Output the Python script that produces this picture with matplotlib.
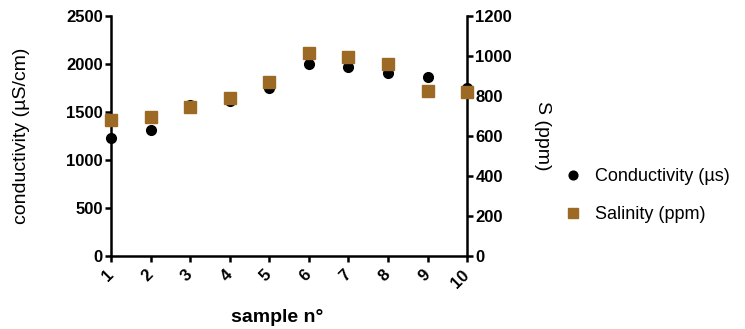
import numpy as np
import matplotlib
matplotlib.use("Agg")
import matplotlib.pyplot as plt

plt.rcParams['font.family'] = ['Liberation Sans', 'DejaVu Sans']

# data
samples = [1, 2, 3, 4, 5, 6, 7, 8, 9, 10]
conductivity = [1229, 1312, 1570, 1620, 1753, 2000, 1972, 1903, 1868, 1750]
salinity = [680, 693, 743, 791, 871, 1013, 997, 958, 827, 822]

brown = '#9C6A24'

fig = plt.figure(figsize=(7.45, 3.29), dpi=100)
ax = fig.add_axes([0.149, 0.222, 0.478, 0.729])
ax2 = ax.twinx()

l1, = ax.plot(samples, conductivity, 'o', color='black', markersize=7, clip_on=False,
              zorder=3, label='Conductivity (\u00b5s)')
l2, = ax2.plot(samples, salinity, 's', color=brown, markersize=8, clip_on=False,
               zorder=4, label='Salinity (ppm)')

ax.set_xlim(1, 10)
ax.set_ylim(0, 2500)
ax2.set_ylim(0, 1200)
ax.set_yticks([0, 500, 1000, 1500, 2000, 2500])
ax2.set_yticks([0, 200, 400, 600, 800, 1000, 1200])
ax.set_xticks(samples)
ax.set_xticklabels([str(s) for s in samples], rotation=45, ha='right',
                   va='center', rotation_mode='anchor', fontsize=12, fontweight='bold')

for a in (ax, ax2):
    a.spines['top'].set_visible(False)
    for s in a.spines.values():
        s.set_linewidth(1.8)
    a.tick_params(width=1.8, length=4, direction='out', labelsize=12, pad=2)
    for lab in a.get_yticklabels():
        lab.set_fontweight('bold')
ax.tick_params(axis='x', pad=8)
ax.spines['right'].set_visible(False)
ax2.spines['left'].set_visible(False)
ax2.spines['bottom'].set_visible(False)

ax.set_ylabel('conductivity (\u00b5S/cm)', fontsize=14, labelpad=26)
ax2.set_ylabel('S (ppm)', fontsize=14, rotation=270, labelpad=28)
ax.set_xlabel('sample n\u00b0', fontsize=14, fontweight='bold')
ax.xaxis.set_label_coords(0.466, -0.22)

fig.legend(handles=[l1, l2], loc='center left', bbox_to_anchor=(0.735, 0.405),
           frameon=False, fontsize=13, handletextpad=0.7, labelspacing=1.15,
           handlelength=1.0, markerscale=0.9)

fig.savefig('out.png', dpi=100)
